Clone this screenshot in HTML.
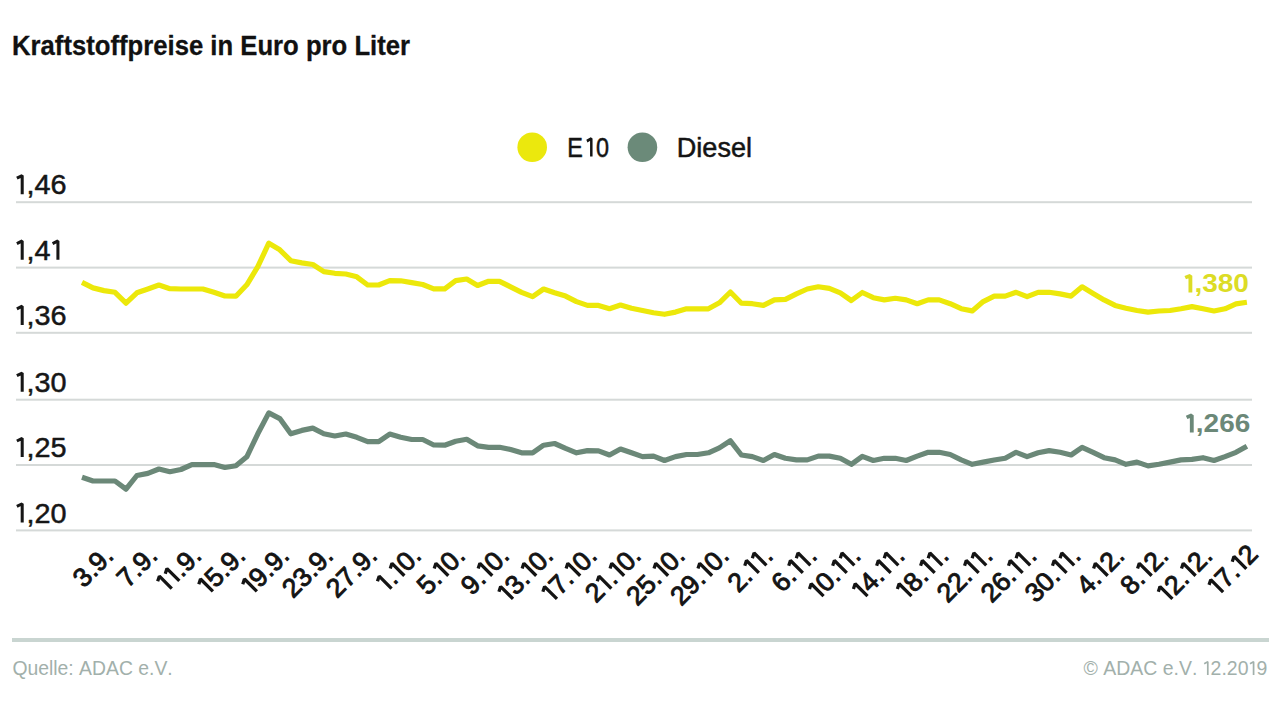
<!DOCTYPE html>
<html><head><meta charset="utf-8"><style>
html,body{margin:0;padding:0;background:#fff;width:1280px;height:711px;overflow:hidden}
svg{position:absolute;left:0;top:0;display:block}
</style></head><body>
<svg width="1280" height="711" viewBox="0 0 1280 711">
<text transform="translate(12.03 55.10) scale(0.9347 1)" x="0.00 19.84 30.53 45.81 54.96 64.10 79.38 88.53 105.31 114.46 123.61 140.39 151.08 166.36 173.99 189.27 204.55 212.18 219.81 236.59 244.22 262.55 279.33 290.02 306.80 314.43 331.21 341.90 358.68 366.32 383.10 390.73 399.88 415.16" y="0" style="font-family:'Liberation Sans',sans-serif;font-size:27.47px;font-weight:bold" fill="#111111" stroke="#111111" stroke-width="0.30" stroke-linejoin="round">Kraftstoffpreise in Euro pro Liter</text>
<circle cx="532.2" cy="147.2" r="14.8" fill="#ebe80d"/>
<text transform="translate(567.28 156.60) scale(0.8565 1)" x="0.00 33.53" y="0" style="font-family:'Liberation Sans',sans-serif;font-size:27.33px;font-weight:normal" fill="#141414" stroke="#141414" stroke-width="0.50" stroke-linejoin="round">E0</text><path transform="translate(567.28 156.60) scale(0.8565 1)" d="M28.06 0.00V-18.08L22.87 -15.52" fill="none" stroke="#141414" stroke-width="2.90" stroke-linejoin="bevel" stroke-linecap="butt"/>
<circle cx="642.4" cy="147.3" r="14.8" fill="#6b8a79"/>
<text transform="translate(676.78 156.60) scale(1.0014 1)" x="0.00 19.52 25.53 40.57 54.08 69.12" y="0" style="font-family:'Liberation Sans',sans-serif;font-size:27.04px;font-weight:normal" fill="#141414" stroke="#141414" stroke-width="0.50" stroke-linejoin="round">Diesel</text>
<rect x="16" y="201.2" width="1236" height="2" fill="#d5d9d8"/>
<rect x="16" y="266.6" width="1236" height="2" fill="#d5d9d8"/>
<rect x="16" y="331.8" width="1236" height="2" fill="#d5d9d8"/>
<rect x="16" y="398.7" width="1236" height="2" fill="#d5d9d8"/>
<rect x="16" y="464.0" width="1236" height="2" fill="#d5d9d8"/>
<rect x="16" y="529.4" width="1236" height="2" fill="#d5d9d8"/>
<text transform="translate(14.70 194.30) scale(1.0173 1)" x="11.48 19.35 35.12" y="0" style="font-family:'Liberation Sans',sans-serif;font-size:28.34px;font-weight:normal" fill="#161616" stroke="#161616" stroke-width="0.50" stroke-linejoin="round">,46</text><path transform="translate(14.70 194.30) scale(1.0173 1)" d="M7.37 0.00V-18.75L2.13 -16.10" fill="none" stroke="#161616" stroke-width="2.99" stroke-linejoin="bevel" stroke-linecap="butt"/>
<text transform="translate(14.70 259.70) scale(1.0173 1)" x="11.48 19.35" y="0" style="font-family:'Liberation Sans',sans-serif;font-size:28.34px;font-weight:normal" fill="#161616" stroke="#161616" stroke-width="0.50" stroke-linejoin="round">,4</text><path transform="translate(14.70 259.70) scale(1.0173 1)" d="M7.37 0.00V-18.75L2.13 -16.10M42.49 0.00V-18.75L37.24 -16.10" fill="none" stroke="#161616" stroke-width="2.99" stroke-linejoin="bevel" stroke-linecap="butt"/>
<text transform="translate(14.70 324.90) scale(1.0173 1)" x="11.48 19.35 35.12" y="0" style="font-family:'Liberation Sans',sans-serif;font-size:28.34px;font-weight:normal" fill="#161616" stroke="#161616" stroke-width="0.50" stroke-linejoin="round">,36</text><path transform="translate(14.70 324.90) scale(1.0173 1)" d="M7.37 0.00V-18.75L2.13 -16.10" fill="none" stroke="#161616" stroke-width="2.99" stroke-linejoin="bevel" stroke-linecap="butt"/>
<text transform="translate(14.70 391.80) scale(1.0173 1)" x="11.48 19.35 35.12" y="0" style="font-family:'Liberation Sans',sans-serif;font-size:28.34px;font-weight:normal" fill="#161616" stroke="#161616" stroke-width="0.50" stroke-linejoin="round">,30</text><path transform="translate(14.70 391.80) scale(1.0173 1)" d="M7.37 0.00V-18.75L2.13 -16.10" fill="none" stroke="#161616" stroke-width="2.99" stroke-linejoin="bevel" stroke-linecap="butt"/>
<text transform="translate(14.70 457.10) scale(1.0173 1)" x="11.48 19.35 35.12" y="0" style="font-family:'Liberation Sans',sans-serif;font-size:28.34px;font-weight:normal" fill="#161616" stroke="#161616" stroke-width="0.50" stroke-linejoin="round">,25</text><path transform="translate(14.70 457.10) scale(1.0173 1)" d="M7.37 0.00V-18.75L2.13 -16.10" fill="none" stroke="#161616" stroke-width="2.99" stroke-linejoin="bevel" stroke-linecap="butt"/>
<text transform="translate(14.70 522.50) scale(1.0173 1)" x="11.48 19.35 35.12" y="0" style="font-family:'Liberation Sans',sans-serif;font-size:28.34px;font-weight:normal" fill="#161616" stroke="#161616" stroke-width="0.50" stroke-linejoin="round">,20</text><path transform="translate(14.70 522.50) scale(1.0173 1)" d="M7.37 0.00V-18.75L2.13 -16.10" fill="none" stroke="#161616" stroke-width="2.99" stroke-linejoin="bevel" stroke-linecap="butt"/>
<polyline points="82.0,282.4 93.0,287.9 104.0,290.6 115.0,292.3 126.0,303.2 136.9,292.8 147.9,289.0 158.9,285.0 169.9,288.7 180.9,289.0 191.9,289.0 202.9,289.0 213.9,292.3 224.9,296.0 235.9,296.2 246.8,284.8 257.8,266.7 268.8,243.2 279.8,249.8 290.8,260.7 301.8,262.9 312.8,264.5 323.8,271.6 334.8,273.3 345.8,274.0 356.8,276.8 367.7,285.0 378.7,285.0 389.7,280.6 400.7,280.8 411.7,282.6 422.7,284.5 433.7,288.8 444.7,288.8 455.7,280.6 466.7,279.0 477.6,285.5 488.6,281.3 499.6,281.3 510.6,286.8 521.6,292.3 532.6,296.6 543.6,289.0 554.6,292.8 565.6,296.1 576.5,301.6 587.5,305.4 598.5,305.4 609.5,308.7 620.5,305.0 631.5,308.3 642.5,310.5 653.5,312.7 664.5,314.3 675.5,312.1 686.5,308.8 697.4,308.8 708.4,308.8 719.4,302.8 730.4,292.0 741.4,303.2 752.4,303.7 763.4,305.4 774.4,299.9 785.4,299.4 796.4,293.9 807.3,289.0 818.3,286.8 829.3,288.4 840.3,292.8 851.3,300.5 862.3,292.5 873.3,297.7 884.3,299.9 895.3,298.3 906.2,299.9 917.2,303.7 928.2,299.9 939.2,299.9 950.2,303.7 961.2,308.7 972.2,310.9 983.2,301.6 994.2,296.1 1005.2,296.1 1016.1,292.3 1027.1,296.6 1038.1,292.3 1049.1,292.3 1060.1,293.9 1071.1,296.1 1082.1,286.8 1093.1,293.4 1104.1,299.9 1115.1,305.4 1126.0,308.2 1137.0,310.5 1148.0,312.1 1159.0,311.0 1170.0,310.5 1181.0,308.8 1192.0,306.6 1203.0,308.8 1214.0,311.0 1225.0,308.8 1236.0,303.9 1246.9,302.3" fill="none" stroke="#ece80a" stroke-width="5.2" stroke-linejoin="round"/>
<polyline points="82.0,477.2 93.0,481.0 104.0,481.0 115.0,481.0 126.0,489.2 136.9,475.5 147.9,473.4 158.9,469.0 169.9,471.7 180.9,469.5 191.9,464.6 202.9,464.6 213.9,464.6 224.9,467.5 235.9,465.8 246.8,456.8 257.8,433.8 268.8,412.9 279.8,418.6 290.8,433.8 301.8,430.4 312.8,428.1 323.8,433.8 334.8,436.0 345.8,434.0 356.8,437.3 367.7,441.7 378.7,441.7 389.7,434.1 400.7,437.3 411.7,439.5 422.7,439.5 433.7,445.0 444.7,445.2 455.7,441.2 466.7,439.3 477.6,445.8 488.6,447.3 499.6,447.3 510.6,449.5 521.6,452.8 532.6,452.8 543.6,445.2 554.6,443.5 565.6,448.4 576.5,452.8 587.5,450.6 598.5,450.9 609.5,455.0 620.5,449.0 631.5,452.8 642.5,456.6 653.5,456.1 664.5,460.5 675.5,456.6 686.5,454.5 697.4,454.5 708.4,452.8 719.4,447.9 730.4,440.8 741.4,455.0 752.4,456.6 763.4,460.5 774.4,454.5 785.4,458.3 796.4,459.9 807.3,459.9 818.3,456.1 829.3,456.1 840.3,458.3 851.3,464.3 862.3,456.4 873.3,460.5 884.3,458.3 895.3,458.3 906.2,460.5 917.2,456.1 928.2,452.3 939.2,452.3 950.2,454.5 961.2,459.9 972.2,464.3 983.2,462.1 994.2,460.0 1005.2,458.3 1016.1,452.3 1027.1,456.6 1038.1,452.8 1049.1,450.6 1060.1,452.3 1071.1,455.0 1082.1,447.3 1093.1,452.3 1104.1,457.7 1115.1,459.9 1126.0,464.3 1137.0,462.1 1148.0,465.9 1159.0,464.3 1170.0,462.1 1181.0,459.9 1192.0,459.4 1203.0,457.7 1214.0,460.5 1225.0,456.6 1236.0,452.3 1246.9,446.2" fill="none" stroke="#6b8878" stroke-width="5.2" stroke-linejoin="round"/>
<text transform="translate(114.99 557.40) rotate(-45) translate(-44.20 0)" x="0.00 14.74 22.10 36.84" y="0" style="font-family:'Liberation Sans',sans-serif;font-size:26.50px;font-weight:normal" fill="#141414" stroke="#141414" stroke-width="0.95" stroke-linejoin="round">3.9.</text>
<text transform="translate(158.95 557.40) rotate(-45) translate(-44.20 0)" x="0.00 14.74 22.10 36.84" y="0" style="font-family:'Liberation Sans',sans-serif;font-size:26.50px;font-weight:normal" fill="#141414" stroke="#141414" stroke-width="0.95" stroke-linejoin="round">7.9.</text>
<text transform="translate(202.91 557.40) rotate(-45) translate(-50.93 0)" x="21.46 28.83 43.57" y="0" style="font-family:'Liberation Sans',sans-serif;font-size:26.50px;font-weight:normal" fill="#141414" stroke="#141414" stroke-width="0.95" stroke-linejoin="round">.9.</text><path transform="translate(202.91 557.40) rotate(-45) translate(-50.93 0)" d="M6.89 0.00V-17.53L1.99 -15.05M17.62 0.00V-17.53L12.72 -15.05" fill="none" stroke="#141414" stroke-width="3.28" stroke-linejoin="bevel" stroke-linecap="butt"/>
<text transform="translate(246.87 557.40) rotate(-45) translate(-54.93 0)" x="10.73 25.47 32.83 47.57" y="0" style="font-family:'Liberation Sans',sans-serif;font-size:26.50px;font-weight:normal" fill="#141414" stroke="#141414" stroke-width="0.95" stroke-linejoin="round">5.9.</text><path transform="translate(246.87 557.40) rotate(-45) translate(-54.93 0)" d="M6.89 0.00V-17.53L1.99 -15.05" fill="none" stroke="#141414" stroke-width="3.28" stroke-linejoin="bevel" stroke-linecap="butt"/>
<text transform="translate(290.83 557.40) rotate(-45) translate(-54.93 0)" x="10.73 25.47 32.83 47.57" y="0" style="font-family:'Liberation Sans',sans-serif;font-size:26.50px;font-weight:normal" fill="#141414" stroke="#141414" stroke-width="0.95" stroke-linejoin="round">9.9.</text><path transform="translate(290.83 557.40) rotate(-45) translate(-54.93 0)" d="M6.89 0.00V-17.53L1.99 -15.05" fill="none" stroke="#141414" stroke-width="3.28" stroke-linejoin="bevel" stroke-linecap="butt"/>
<text transform="translate(334.79 557.40) rotate(-45) translate(-58.94 0)" x="0.00 14.74 29.48 36.84 51.58" y="0" style="font-family:'Liberation Sans',sans-serif;font-size:26.50px;font-weight:normal" fill="#141414" stroke="#141414" stroke-width="0.95" stroke-linejoin="round">23.9.</text>
<text transform="translate(378.75 557.40) rotate(-45) translate(-58.94 0)" x="0.00 14.74 29.48 36.84 51.58" y="0" style="font-family:'Liberation Sans',sans-serif;font-size:26.50px;font-weight:normal" fill="#141414" stroke="#141414" stroke-width="0.95" stroke-linejoin="round">27.9.</text>
<text transform="translate(422.71 557.40) rotate(-45) translate(-50.93 0)" x="10.73 28.83 43.57" y="0" style="font-family:'Liberation Sans',sans-serif;font-size:26.50px;font-weight:normal" fill="#141414" stroke="#141414" stroke-width="0.95" stroke-linejoin="round">.0.</text><path transform="translate(422.71 557.40) rotate(-45) translate(-50.93 0)" d="M6.89 0.00V-17.53L1.99 -15.05M24.99 0.00V-17.53L20.08 -15.05" fill="none" stroke="#141414" stroke-width="3.28" stroke-linejoin="bevel" stroke-linecap="butt"/>
<text transform="translate(466.67 557.40) rotate(-45) translate(-54.93 0)" x="0.00 14.74 32.83 47.57" y="0" style="font-family:'Liberation Sans',sans-serif;font-size:26.50px;font-weight:normal" fill="#141414" stroke="#141414" stroke-width="0.95" stroke-linejoin="round">5.0.</text><path transform="translate(466.67 557.40) rotate(-45) translate(-54.93 0)" d="M28.99 0.00V-17.53L24.09 -15.05" fill="none" stroke="#141414" stroke-width="3.28" stroke-linejoin="bevel" stroke-linecap="butt"/>
<text transform="translate(510.63 557.40) rotate(-45) translate(-54.93 0)" x="0.00 14.74 32.83 47.57" y="0" style="font-family:'Liberation Sans',sans-serif;font-size:26.50px;font-weight:normal" fill="#141414" stroke="#141414" stroke-width="0.95" stroke-linejoin="round">9.0.</text><path transform="translate(510.63 557.40) rotate(-45) translate(-54.93 0)" d="M28.99 0.00V-17.53L24.09 -15.05" fill="none" stroke="#141414" stroke-width="3.28" stroke-linejoin="bevel" stroke-linecap="butt"/>
<text transform="translate(554.59 557.40) rotate(-45) translate(-65.67 0)" x="10.73 25.47 43.57 58.30" y="0" style="font-family:'Liberation Sans',sans-serif;font-size:26.50px;font-weight:normal" fill="#141414" stroke="#141414" stroke-width="0.95" stroke-linejoin="round">3.0.</text><path transform="translate(554.59 557.40) rotate(-45) translate(-65.67 0)" d="M6.89 0.00V-17.53L1.99 -15.05M39.72 0.00V-17.53L34.82 -15.05" fill="none" stroke="#141414" stroke-width="3.28" stroke-linejoin="bevel" stroke-linecap="butt"/>
<text transform="translate(598.55 557.40) rotate(-45) translate(-65.67 0)" x="10.73 25.47 43.57 58.30" y="0" style="font-family:'Liberation Sans',sans-serif;font-size:26.50px;font-weight:normal" fill="#141414" stroke="#141414" stroke-width="0.95" stroke-linejoin="round">7.0.</text><path transform="translate(598.55 557.40) rotate(-45) translate(-65.67 0)" d="M6.89 0.00V-17.53L1.99 -15.05M39.72 0.00V-17.53L34.82 -15.05" fill="none" stroke="#141414" stroke-width="3.28" stroke-linejoin="bevel" stroke-linecap="butt"/>
<text transform="translate(642.51 557.40) rotate(-45) translate(-65.67 0)" x="0.00 25.47 43.57 58.30" y="0" style="font-family:'Liberation Sans',sans-serif;font-size:26.50px;font-weight:normal" fill="#141414" stroke="#141414" stroke-width="0.95" stroke-linejoin="round">2.0.</text><path transform="translate(642.51 557.40) rotate(-45) translate(-65.67 0)" d="M21.63 0.00V-17.53L16.73 -15.05M39.72 0.00V-17.53L34.82 -15.05" fill="none" stroke="#141414" stroke-width="3.28" stroke-linejoin="bevel" stroke-linecap="butt"/>
<text transform="translate(686.47 557.40) rotate(-45) translate(-69.67 0)" x="0.00 14.74 29.48 47.57 62.31" y="0" style="font-family:'Liberation Sans',sans-serif;font-size:26.50px;font-weight:normal" fill="#141414" stroke="#141414" stroke-width="0.95" stroke-linejoin="round">25.0.</text><path transform="translate(686.47 557.40) rotate(-45) translate(-69.67 0)" d="M43.73 0.00V-17.53L38.83 -15.05" fill="none" stroke="#141414" stroke-width="3.28" stroke-linejoin="bevel" stroke-linecap="butt"/>
<text transform="translate(730.43 557.40) rotate(-45) translate(-69.67 0)" x="0.00 14.74 29.48 47.57 62.31" y="0" style="font-family:'Liberation Sans',sans-serif;font-size:26.50px;font-weight:normal" fill="#141414" stroke="#141414" stroke-width="0.95" stroke-linejoin="round">29.0.</text><path transform="translate(730.43 557.40) rotate(-45) translate(-69.67 0)" d="M43.73 0.00V-17.53L38.83 -15.05" fill="none" stroke="#141414" stroke-width="3.28" stroke-linejoin="bevel" stroke-linecap="butt"/>
<text transform="translate(774.39 557.40) rotate(-45) translate(-50.93 0)" x="0.00 14.74 43.57" y="0" style="font-family:'Liberation Sans',sans-serif;font-size:26.50px;font-weight:normal" fill="#141414" stroke="#141414" stroke-width="0.95" stroke-linejoin="round">2..</text><path transform="translate(774.39 557.40) rotate(-45) translate(-50.93 0)" d="M28.99 0.00V-17.53L24.09 -15.05M39.72 0.00V-17.53L34.82 -15.05" fill="none" stroke="#141414" stroke-width="3.28" stroke-linejoin="bevel" stroke-linecap="butt"/>
<text transform="translate(818.35 557.40) rotate(-45) translate(-50.93 0)" x="0.00 14.74 43.57" y="0" style="font-family:'Liberation Sans',sans-serif;font-size:26.50px;font-weight:normal" fill="#141414" stroke="#141414" stroke-width="0.95" stroke-linejoin="round">6..</text><path transform="translate(818.35 557.40) rotate(-45) translate(-50.93 0)" d="M28.99 0.00V-17.53L24.09 -15.05M39.72 0.00V-17.53L34.82 -15.05" fill="none" stroke="#141414" stroke-width="3.28" stroke-linejoin="bevel" stroke-linecap="butt"/>
<text transform="translate(862.31 557.40) rotate(-45) translate(-61.66 0)" x="10.73 25.47 54.30" y="0" style="font-family:'Liberation Sans',sans-serif;font-size:26.50px;font-weight:normal" fill="#141414" stroke="#141414" stroke-width="0.95" stroke-linejoin="round">0..</text><path transform="translate(862.31 557.40) rotate(-45) translate(-61.66 0)" d="M6.89 0.00V-17.53L1.99 -15.05M39.72 0.00V-17.53L34.82 -15.05M50.46 0.00V-17.53L45.55 -15.05" fill="none" stroke="#141414" stroke-width="3.28" stroke-linejoin="bevel" stroke-linecap="butt"/>
<text transform="translate(906.27 557.40) rotate(-45) translate(-61.66 0)" x="10.73 25.47 54.30" y="0" style="font-family:'Liberation Sans',sans-serif;font-size:26.50px;font-weight:normal" fill="#141414" stroke="#141414" stroke-width="0.95" stroke-linejoin="round">4..</text><path transform="translate(906.27 557.40) rotate(-45) translate(-61.66 0)" d="M6.89 0.00V-17.53L1.99 -15.05M39.72 0.00V-17.53L34.82 -15.05M50.46 0.00V-17.53L45.55 -15.05" fill="none" stroke="#141414" stroke-width="3.28" stroke-linejoin="bevel" stroke-linecap="butt"/>
<text transform="translate(950.23 557.40) rotate(-45) translate(-61.66 0)" x="10.73 25.47 54.30" y="0" style="font-family:'Liberation Sans',sans-serif;font-size:26.50px;font-weight:normal" fill="#141414" stroke="#141414" stroke-width="0.95" stroke-linejoin="round">8..</text><path transform="translate(950.23 557.40) rotate(-45) translate(-61.66 0)" d="M6.89 0.00V-17.53L1.99 -15.05M39.72 0.00V-17.53L34.82 -15.05M50.46 0.00V-17.53L45.55 -15.05" fill="none" stroke="#141414" stroke-width="3.28" stroke-linejoin="bevel" stroke-linecap="butt"/>
<text transform="translate(994.19 557.40) rotate(-45) translate(-65.67 0)" x="0.00 14.74 29.48 58.30" y="0" style="font-family:'Liberation Sans',sans-serif;font-size:26.50px;font-weight:normal" fill="#141414" stroke="#141414" stroke-width="0.95" stroke-linejoin="round">22..</text><path transform="translate(994.19 557.40) rotate(-45) translate(-65.67 0)" d="M43.73 0.00V-17.53L38.83 -15.05M54.46 0.00V-17.53L49.56 -15.05" fill="none" stroke="#141414" stroke-width="3.28" stroke-linejoin="bevel" stroke-linecap="butt"/>
<text transform="translate(1038.15 557.40) rotate(-45) translate(-65.67 0)" x="0.00 14.74 29.48 58.30" y="0" style="font-family:'Liberation Sans',sans-serif;font-size:26.50px;font-weight:normal" fill="#141414" stroke="#141414" stroke-width="0.95" stroke-linejoin="round">26..</text><path transform="translate(1038.15 557.40) rotate(-45) translate(-65.67 0)" d="M43.73 0.00V-17.53L38.83 -15.05M54.46 0.00V-17.53L49.56 -15.05" fill="none" stroke="#141414" stroke-width="3.28" stroke-linejoin="bevel" stroke-linecap="butt"/>
<text transform="translate(1082.11 557.40) rotate(-45) translate(-65.67 0)" x="0.00 14.74 29.48 58.30" y="0" style="font-family:'Liberation Sans',sans-serif;font-size:26.50px;font-weight:normal" fill="#141414" stroke="#141414" stroke-width="0.95" stroke-linejoin="round">30..</text><path transform="translate(1082.11 557.40) rotate(-45) translate(-65.67 0)" d="M43.73 0.00V-17.53L38.83 -15.05M54.46 0.00V-17.53L49.56 -15.05" fill="none" stroke="#141414" stroke-width="3.28" stroke-linejoin="bevel" stroke-linecap="butt"/>
<text transform="translate(1126.07 557.40) rotate(-45) translate(-54.93 0)" x="0.00 14.74 32.83 47.57" y="0" style="font-family:'Liberation Sans',sans-serif;font-size:26.50px;font-weight:normal" fill="#141414" stroke="#141414" stroke-width="0.95" stroke-linejoin="round">4.2.</text><path transform="translate(1126.07 557.40) rotate(-45) translate(-54.93 0)" d="M28.99 0.00V-17.53L24.09 -15.05" fill="none" stroke="#141414" stroke-width="3.28" stroke-linejoin="bevel" stroke-linecap="butt"/>
<text transform="translate(1170.03 557.40) rotate(-45) translate(-54.93 0)" x="0.00 14.74 32.83 47.57" y="0" style="font-family:'Liberation Sans',sans-serif;font-size:26.50px;font-weight:normal" fill="#141414" stroke="#141414" stroke-width="0.95" stroke-linejoin="round">8.2.</text><path transform="translate(1170.03 557.40) rotate(-45) translate(-54.93 0)" d="M28.99 0.00V-17.53L24.09 -15.05" fill="none" stroke="#141414" stroke-width="3.28" stroke-linejoin="bevel" stroke-linecap="butt"/>
<text transform="translate(1213.99 557.40) rotate(-45) translate(-65.67 0)" x="10.73 25.47 43.57 58.30" y="0" style="font-family:'Liberation Sans',sans-serif;font-size:26.50px;font-weight:normal" fill="#141414" stroke="#141414" stroke-width="0.95" stroke-linejoin="round">2.2.</text><path transform="translate(1213.99 557.40) rotate(-45) translate(-65.67 0)" d="M6.89 0.00V-17.53L1.99 -15.05M39.72 0.00V-17.53L34.82 -15.05" fill="none" stroke="#141414" stroke-width="3.28" stroke-linejoin="bevel" stroke-linecap="butt"/>
<text transform="translate(1259.50 555.70) rotate(-45) translate(-58.30 0)" x="10.73 25.47 43.57" y="0" style="font-family:'Liberation Sans',sans-serif;font-size:26.50px;font-weight:normal" fill="#141414" stroke="#141414" stroke-width="0.95" stroke-linejoin="round">7.2</text><path transform="translate(1259.50 555.70) rotate(-45) translate(-58.30 0)" d="M6.89 0.00V-17.53L1.99 -15.05M39.72 0.00V-17.53L34.82 -15.05" fill="none" stroke="#141414" stroke-width="3.28" stroke-linejoin="bevel" stroke-linecap="butt"/>
<text transform="translate(1183.12 292.40) scale(1.0821 1)" x="10.48 17.67 32.06 46.44" y="0" style="font-family:'Liberation Sans',sans-serif;font-size:25.87px;font-weight:bold" fill="#dcdc25">,380</text><path transform="translate(1183.12 292.40) scale(1.0821 1)" d="M6.73 0.00V-16.74L1.94 -14.70" fill="none" stroke="#dcdc25" stroke-width="3.55" stroke-linejoin="bevel" stroke-linecap="butt"/>
<text transform="translate(1184.52 432.40) scale(1.0561 1)" x="10.71 18.06 32.78 47.49" y="0" style="font-family:'Liberation Sans',sans-serif;font-size:26.45px;font-weight:bold" fill="#6b8878">,266</text><path transform="translate(1184.52 432.40) scale(1.0561 1)" d="M6.88 0.00V-17.11L1.98 -15.03" fill="none" stroke="#6b8878" stroke-width="3.63" stroke-linejoin="bevel" stroke-linecap="butt"/>
<rect x="12" y="638" width="1257" height="4" fill="#c9d5d1"/>
<text transform="translate(12.38 674.70) scale(0.9726 1)" x="0.00 15.49 26.56 37.64 42.06 46.49 57.56 63.09 68.63 81.91 96.29 109.57 123.95 129.48 140.56 146.09 159.37" y="0" style="font-family:'Liberation Sans',sans-serif;font-size:19.91px;font-weight:normal" fill="#a2b0ab">Quelle: ADAC e.V.</text>
<text transform="translate(1083.41 675.00) scale(0.9779 1)" x="0.00 14.67 20.20 33.49 47.87 61.15 75.53 81.06 92.14 97.67 110.95 116.48 130.08 141.16 146.69 157.76 176.90" y="0" style="font-family:'Liberation Sans',sans-serif;font-size:19.91px;font-weight:normal" fill="#a2b0ab">&#169; ADAC e.V. 2.209</text><path transform="translate(1083.41 675.00) scale(0.9779 1)" d="M127.19 0.00V-13.17L123.51 -11.31M174.02 0.00V-13.17L170.33 -11.31" fill="none" stroke="#a2b0ab" stroke-width="1.75" stroke-linejoin="bevel" stroke-linecap="butt"/>
</svg>
</body></html>
